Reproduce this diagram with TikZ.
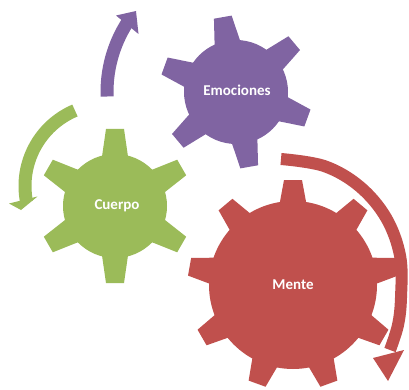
\documentclass[tikz,border=0pt]{standalone}
\usepackage{fontspec}
\setmainfont{Carlito}
\definecolor{gGreen}{HTML}{9BBB59}
\definecolor{gPurple}{HTML}{8064A2}
\definecolor{gRed}{HTML}{C0504D}
\newcommand{\gearshape}[8]{%
  \fill[#8] #1 circle (#2);
  \pgfmathsetmacro{\gstep}{360/#4}
  \foreach \k in {1,...,#4} {
    \fill[#8, shift={#1}, rotate={#5+(\k-1)*\gstep}]
      (#2-6,-#6) -- (#3,-#7) -- (#3,#7) -- (#2-6,#6) -- cycle;
  }%
}
\begin{document}
\begin{tikzpicture}[x=1pt,y=1pt,
  geartext/.style={text=white, font=\fontsize{15}{17}\selectfont\bfseries, anchor=base, inner sep=0pt},
  band/.style={line width=13pt, line cap=butt}]
\useasboundingbox (0,0) rectangle (409,-390);

% gears
\gearshape{(115,-206)}{52}{77}{6}{90}{13.5}{9}{gGreen}
\gearshape{(236,-92)}{52}{76}{6}{100}{13.5}{9}{gPurple}
\gearshape{(293,-285)}{84}{105}{9}{90}{14}{9}{gRed}

% labels
\node[geartext] (cuerpo) at (117,-209) {Cuerpo};
\node[geartext] (emociones) at (237,-96) {Emociones};
\node[geartext] (mente) at (293,-289) {Mente};

% purple arrow
\draw[band, gPurple, shift={(236,-92)}] (182:129) arc[start angle=182, end angle=147.5, radius=129];
\fill[gPurple] (116,-15.5) -- (136,-11) -- (138.5,-34) -- cycle;

% green arrow
\draw[band, gGreen, shift={(107,-186)}] (113:82) arc[start angle=113, end angle=191, radius=82];
\fill[gGreen] (9,-203.5) -- (37.5,-196.5) -- (21,-210) -- cycle;

% red arrow
\draw[band, line width=12pt, gRed] plot[smooth, tension=0.6] coordinates {
  (281,-159) (324.4,-166.1) (359.8,-186.6) (386.2,-218) (400.2,-256.5)
  (401,-297.5) (398,-325) (390,-350)};
\fill[gRed] (373,-358) -- (404,-350) -- (388,-381) -- cycle;
\end{tikzpicture}
\end{document}
